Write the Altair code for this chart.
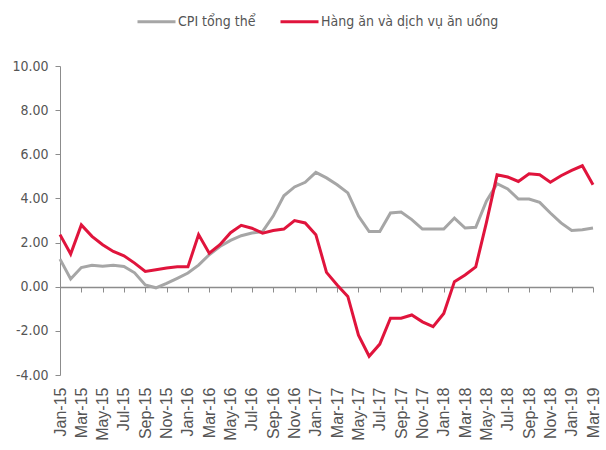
import altair as alt
import pandas as pd

# Month categories, Jan-15 .. Mar-19
month_names = ["Jan", "Feb", "Mar", "Apr", "May", "Jun",
               "Jul", "Aug", "Sep", "Oct", "Nov", "Dec"]
months = [f"{m}-{y}" for y in range(15, 20) for m in month_names][:51]

# Year-on-year change (%)
cpi = [1.25, 0.35, 0.87, 0.97, 0.93, 0.97, 0.92, 0.63, 0.08, -0.05,
       0.15, 0.38, 0.62, 0.98, 1.45, 1.82, 2.10, 2.31, 2.43, 2.50,
       3.20, 4.12, 4.52, 4.73, 5.18, 4.93, 4.62, 4.25, 3.20, 2.50,
       2.50, 3.34, 3.38, 3.04, 2.61, 2.61, 2.61, 3.11, 2.66, 2.69,
       3.87, 4.67, 4.43, 3.97, 3.97, 3.82, 3.34, 2.89, 2.55, 2.58,
       2.66]
food = [2.36, 1.48, 2.80, 2.28, 1.90, 1.60, 1.40, 1.07, 0.69, 0.77,
        0.85, 0.90, 0.90, 2.36, 1.52, 1.90, 2.45, 2.78, 2.65, 2.43,
        2.55, 2.61, 3.00, 2.89, 2.36, 0.65, 0.08, -0.44, -2.20, -3.15,
        -2.60, -1.43, -1.43, -1.28, -1.59, -1.81, -1.21, 0.23, 0.53, 0.90,
        2.90, 5.07, 4.97, 4.77, 5.12, 5.07, 4.73, 5.03, 5.27, 5.48,
        4.62]

series_names = ["CPI tổng thể", "Hàng ăn và dịch vụ ăn uống"]
series_colors = ["#a6a6a6", "#e0143c"]
y_ticks = [-4, -2, 0, 2, 4, 6, 8, 10]

df = pd.concat([
    pd.DataFrame({"month": months, "value": cpi, "series": series_names[0]}),
    pd.DataFrame({"month": months, "value": food, "series": series_names[1]}),
])

label_months = months[::2]
x_scale = alt.Scale(type="point", padding=0)
y_scale = alt.Scale(domain=[-4, 10], nice=False, zero=False)

label_font = "Liberation Sans"
narrow_font = "Liberation Sans Narrow, Arial Narrow, DejaVu Sans Condensed, Liberation Sans"

lines = alt.Chart(df).mark_line(strokeWidth=3, interpolate="linear").encode(
    x=alt.X("month:O", sort=months, scale=x_scale, title=None,
            axis=alt.Axis(orient="bottom", values=label_months, labelAngle=-90,
                          domain=False, ticks=False, labelPadding=12,
                          labelFont=label_font, labelFontSize=16,
                          labelColor="#555555")),
    y=alt.Y("value:Q", scale=y_scale, title=None,
            axis=alt.Axis(values=y_ticks, grid=False, tickSize=5,
                          labelPadding=7, domainColor="#8c8c8c",
                          tickColor="#8c8c8c", labelFont=narrow_font,
                          labelFontSize=14, labelColor="#555555",
                          labelExpr="datum.value < 0 ? '-' + format(-datum.value, '.2f') : format(datum.value, '.2f')")),
    color=alt.Color("series:N", sort=series_names,
                    scale=alt.Scale(domain=series_names, range=series_colors),
                    legend=alt.Legend(title=None, orient="none", direction="horizontal",
                                      legendX=76, legendY=-65,
                                      symbolType="stroke", symbolSize=1444,
                                      symbolStrokeWidth=3, labelOffset=1,
                                      columnPadding=18, labelFont=narrow_font,
                                      labelFontSize=14, labelLimit=400,
                                      labelColor="#555555")),
    order=alt.Order("series:N"),
)

# Zero baseline with tick marks, drawn as a second x axis lifted to y = 0
zero_axis = alt.Chart(df).mark_line(opacity=0).encode(
    x=alt.X("month:O", sort=months, scale=x_scale, title=None,
            axis=alt.Axis(orient="bottom", values=label_months, labels=False,
                          domain=True, ticks=True, tickSize=5,
                          domainColor="#8c8c8c", tickColor="#8c8c8c",
                          offset=-88, domainWidth=1.5)),
    y=alt.Y("value:Q", scale=y_scale),
    detail="series:N",
)

chart = alt.layer(zero_axis, lines).resolve_axis(x="independent").properties(
    width=533,
    height=309,
    autosize=alt.AutoSizeParams(type="none"),
    padding={"left": 60, "top": 66, "right": 13, "bottom": 75},
).configure_view(stroke=None)

chart.save("out.html", embed_options={"renderer": "svg", "actions": False})
